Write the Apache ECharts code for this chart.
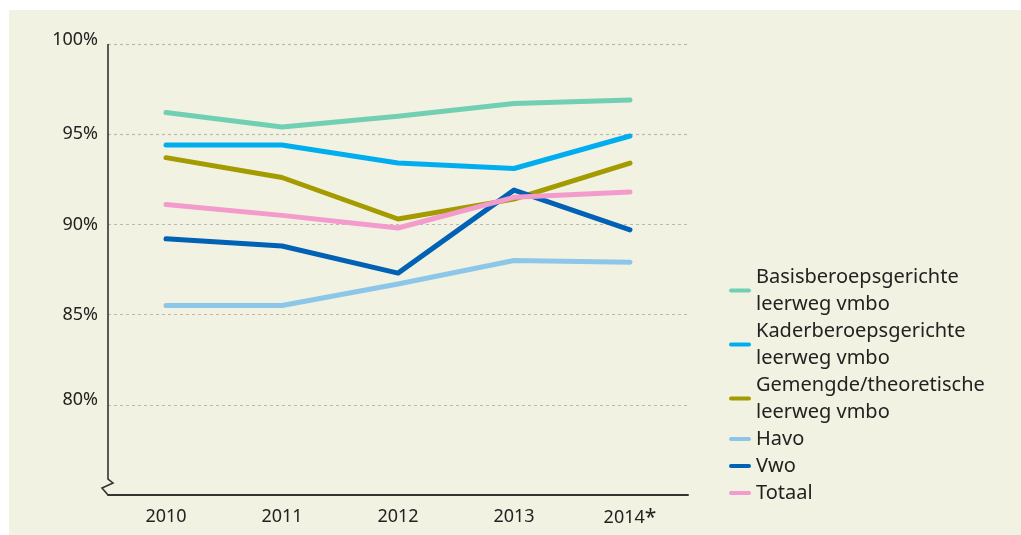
<!DOCTYPE html>
<html>
<head>
<meta charset="utf-8">
<script src="https://cdn.jsdelivr.net/npm/echarts@6/dist/echarts.min.js"></script>
<style>
  html, body { margin: 0; padding: 0; background: #ffffff; }
  #chart { width: 1021px; height: 535px; }
</style>
</head>
<body>
<div id="chart"></div>
<script>
// Schooljaren op de x-as
const years = ['2010', '2011', '2012', '2013', '2014*'];

// Slaagpercentages per schoolsoort
const basisberoeps = [96.2, 95.4, 96.0, 96.7, 96.9];
const kaderberoeps = [94.4, 94.4, 93.4, 93.1, 94.9];
const gemengdTheoretisch = [93.7, 92.6, 90.3, 91.4, 93.4];
const havo = [85.5, 85.5, 86.7, 88.0, 87.9];
const vwo = [89.2, 88.8, 87.3, 91.9, 89.7];
const totaal = [91.1, 90.5, 89.8, 91.5, 91.8];

// Y-as: 75 is de onderkant (as-onderbreking), labels vanaf 80
const yMin = 75;
const yMax = 100;
const yStep = 5;
// labels die iets boven hun rasterlijn staan
const raisedTicks = [80, 100];

const seriesDefs = [
  { name: 'Basisberoepsgerichte\nleerweg vmbo', data: basisberoeps, color: '#71cfb3' },
  { name: 'Kaderberoepsgerichte\nleerweg vmbo', data: kaderberoeps, color: '#00aeef' },
  { name: 'Gemengde/theoretische\nleerweg vmbo', data: gemengdTheoretisch, color: '#a39b00' },
  { name: 'Havo', data: havo, color: '#8cc7ea' },
  { name: 'Vwo', data: vwo, color: '#0061b5' },
  { name: 'Totaal', data: totaal, color: '#f39bcd' }
];

const FONT = '"Noto Sans", "Open Sans", sans-serif';
const LEGEND_LINE = 27;
const chart = echarts.init(document.getElementById('chart'), null, { renderer: 'canvas' });

const option = {
  backgroundColor: '#ffffff',
  animation: false,
  color: seriesDefs.map(s => s.color),
  grid: { left: 108, right: 333, top: 44, bottom: 40, containLabel: false },
  legend: {
    orient: 'vertical',
    left: 724,
    top: 245,
    itemWidth: 22,
    itemHeight: LEGEND_LINE,
    itemGap: -LEGEND_LINE,
    icon: 'path://M2,11 L20,11 A2,2 0 0 1 20,15 L2,15 A2,2 0 0 1 2,11 Z',
    // tekstblok omlaag schuiven zodat het icoon bij de eerste regel staat
    data: seriesDefs.map(s => ({
      name: s.name,
      textStyle: { padding: [LEGEND_LINE, 0, 0, 0] }
    })),
    textStyle: {
      fontFamily: FONT,
      fontSize: 20,
      color: '#222222',
      lineHeight: LEGEND_LINE
    }
  },
  xAxis: {
    type: 'category',
    data: years,
    boundaryGap: true,
    axisLine: { show: true, lineStyle: { color: '#333333', width: 2 } },
    axisTick: { show: false },
    splitLine: { show: false },
    axisLabel: {
      margin: 13,
      fontFamily: FONT,
      fontSize: 18,
      color: '#222222',
      formatter: v => v.replace('*', '{s|*}'),
      rich: {
        s: { fontFamily: FONT, fontSize: 21, color: '#222222', lineHeight: 20 }
      }
    }
  },
  yAxis: {
    type: 'value',
    min: yMin,
    max: yMax,
    interval: yStep,
    axisLine: { show: false },
    axisTick: { show: false },
    splitLine: { show: true, lineStyle: { color: '#b9b9b2', type: [3, 3], width: 1.2 } },
    axisLabel: {
      margin: 10,
      fontFamily: FONT,
      fontSize: 18,
      color: '#222222',
      formatter: v => {
        if (v === yMin) return '';
        return raisedTicks.includes(v) ? '{up|' + v + '%}' : '{n|' + v + '%}';
      },
      rich: {
        n: { fontFamily: FONT, fontSize: 18, color: '#222222' },
        up: { fontFamily: FONT, fontSize: 18, color: '#222222', padding: [0, 0, 9, 0] }
      }
    }
  },
  series: seriesDefs.map(s => ({
    name: s.name,
    type: 'line',
    data: s.data,
    symbol: 'none',
    smooth: false,
    lineStyle: { width: 5, color: s.color, cap: 'round', join: 'round' },
    itemStyle: { color: s.color },
    emphasis: { disabled: true }
  }))
};

chart.setOption(option);

// Achtergrondvlak en y-as met onderbreking, gepositioneerd via de assen
function drawFrame() {
  const top = chart.convertToPixel({ yAxisIndex: 0 }, yMax);
  const bottom = chart.convertToPixel({ yAxisIndex: 0 }, yMin);
  const x0 = chart.convertToPixel({ gridIndex: 0 }, [0, yMax])[0] - 58;
  chart.setOption({
    graphic: [
      {
        type: 'rect', z: -10, silent: true,
        shape: { x: 9, y: 10, width: 1021 - 9, height: 535 - 10 },
        style: { fill: '#f2f2e2' }
      },
      {
        type: 'polyline', z: 5, silent: true,
        shape: {
          points: [
            [x0, top], [x0, bottom - 16], [x0 + 5, bottom - 12],
            [x0 - 6, bottom - 7], [x0, bottom]
          ]
        },
        style: { stroke: '#333333', lineWidth: 1.6, fill: null }
      }
    ]
  });
}
drawFrame();
</script>
</body>
</html>
